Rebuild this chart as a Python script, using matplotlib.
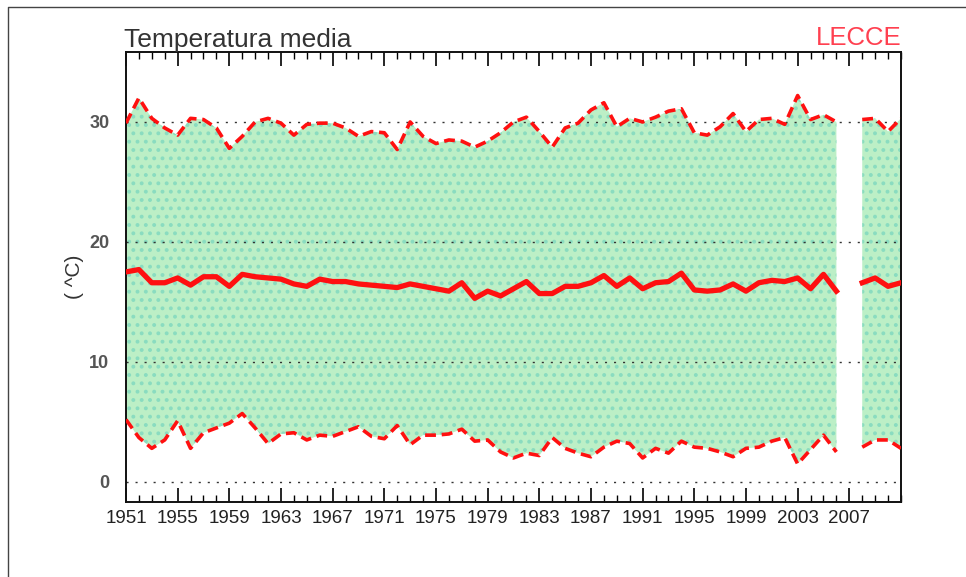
import numpy as np
import matplotlib
matplotlib.use("Agg")
import matplotlib.pyplot as plt
from matplotlib.lines import Line2D

# Yearly temperature data for Lecce (1951-2011), 2007 missing
years = list(range(1951, 2012))

t_mean = [17.5, 17.7, 16.6, 16.6, 17.0, 16.4, 17.1, 17.1, 16.3, 17.3,
          17.1, 17.0, 16.9, 16.5, 16.3, 16.9, 16.7, 16.7, 16.5, 16.4,
          16.3, 16.2, 16.5, 16.3, 16.1, 15.9, 16.6, 15.3, 15.9, 15.5,
          16.1, 16.7, 15.7, 15.7, 16.3, 16.3, 16.6, 17.2, 16.3, 17.0,
          16.1, 16.6, 16.7, 17.4, 16.0, 15.9, 16.0, 16.5, 15.9, 16.6,
          16.8, 16.7, 17.0, 16.1, 17.3, 15.9, np.nan, 16.6, 17.0, 16.3,
          16.6]

t_max = [29.9, 32.0, 30.3, 29.5, 28.9, 30.3, 30.2, 29.5, 27.8, 28.8,
         30.0, 30.3, 29.9, 28.9, 29.8, 29.9, 29.9, 29.5, 28.8, 29.2,
         29.1, 27.7, 30.0, 28.8, 28.2, 28.5, 28.4, 27.9, 28.4, 29.1,
         30.0, 30.4, 29.2, 27.9, 29.5, 29.9, 31.0, 31.6, 29.6, 30.3,
         30.0, 30.4, 30.9, 31.1, 29.1, 28.9, 29.6, 30.7, 29.2, 30.2,
         30.3, 29.8, 32.2, 30.2, 30.6, 30.0, np.nan, 30.2, 30.3, 29.2,
         30.3]

t_min = [5.2, 3.7, 2.8, 3.5, 5.1, 2.8, 4.1, 4.5, 4.9, 5.7,
         4.5, 3.2, 4.0, 4.1, 3.5, 3.9, 3.8, 4.2, 4.6, 3.8,
         3.6, 4.7, 3.1, 3.9, 3.9, 4.0, 4.4, 3.4, 3.5, 2.5,
         2.0, 2.4, 2.2, 3.7, 2.8, 2.4, 2.1, 2.9, 3.4, 3.2,
         2.0, 2.8, 2.4, 3.4, 2.9, 2.8, 2.5, 2.1, 2.8, 2.9,
         3.4, 3.7, 1.5, 2.7, 3.9, 2.5, np.nan, 2.9, 3.5, 3.5,
         2.8]

y_ticks = [0, 10, 20, 30]
x_labels = list(range(1951, 2008, 4))

plt.rcParams['font.family'] = ['Liberation Sans', 'DejaVu Sans']
plt.rcParams['hatch.linewidth'] = 1.6

fig = plt.figure(figsize=(9.66, 5.77), dpi=100)
ax = fig.add_axes([0.1304, 0.1300, 0.8023, 0.7799])

# band between min and max
ax.fill_between(years, t_min, t_max, facecolor='#bcefc6',
                edgecolor='#8adcc0', linewidth=0, hatch='..', zorder=1)

# reference lines
for v in y_ticks:
    ax.axhline(v, color='#333333', linestyle=(0, (1.5, 5)), linewidth=1.0, zorder=2)

red = '#ff1010'
ax.plot(years, t_max, color=red, linewidth=2.6, dashes=(3, 1.6), zorder=3)
ax.plot(years, t_min, color=red, linewidth=2.6, dashes=(3, 1.6), zorder=3)
ax.plot(years, t_mean, color=red, linewidth=3.8, solid_joinstyle='round', zorder=4)

ax.set_xlim(1951, 2011)
ax.set_ylim(-1.67, 35.83)

ax.set_xticks(x_labels)
ax.set_xticklabels([str(y) for y in x_labels], fontsize=13.5, color='#222222')
ax.set_xticks(years, minor=True)
ax.tick_params(axis='x', which='major', direction='in', length=10, width=1.2,
               top=True, pad=6)
ax.tick_params(axis='x', which='minor', direction='in', length=5, width=1.0, top=True)

ax.set_yticks(y_ticks)
ax.set_yticklabels([str(v) for v in y_ticks], fontsize=13, fontweight='bold',
                   color='#555555')
ax.tick_params(axis='y', length=0, pad=12)

for s in ax.spines.values():
    s.set_linewidth(1.4)
    s.set_color('#111111')

ax.set_ylabel('( ^C)', fontsize=15, color='#333333', labelpad=4)

# titles
fig.text(124 / 966, 1 - 40 / 577, 'Temperatura media', fontsize=19,
         color='#333333', ha='left', va='center')
fig.text(901 / 966, 1 - 38 / 577, 'LECCE', fontsize=18.5,
         color='#ff4050', ha='right', va='center')

# outer frame
fig.add_artist(Line2D([8 / 966, 8 / 966, 1.0], [0.0, 1 - 7 / 577, 1 - 7 / 577],
                      transform=fig.transFigure, color='#444444', linewidth=1.0))

fig.savefig('out.png', dpi=100)
